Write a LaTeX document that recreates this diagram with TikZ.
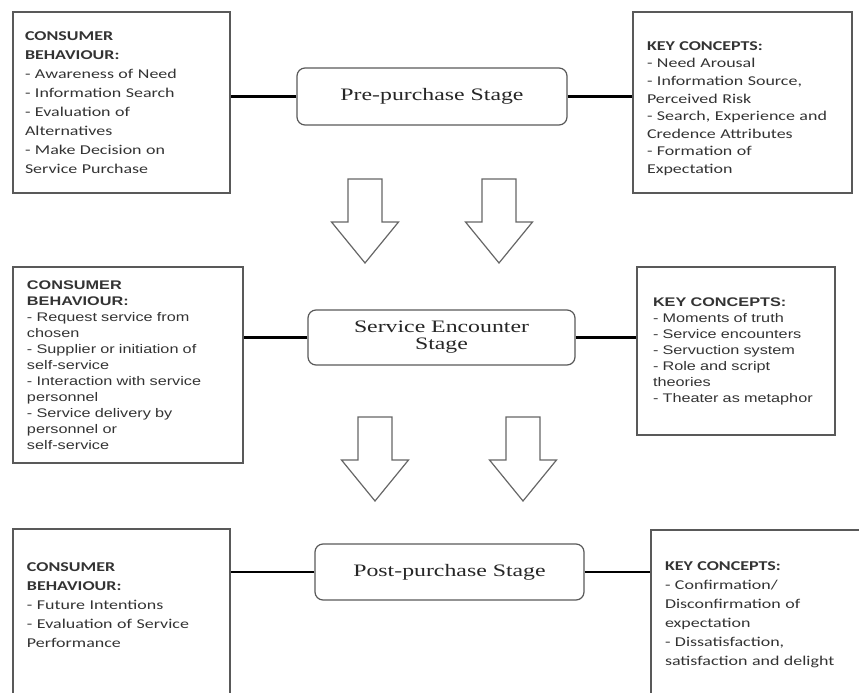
\documentclass[tikz,border=0pt]{standalone}
\usepackage{fontspec}
\setmainfont[FakeStretch=1.36]{Liberation Serif}
\newfontfamily\calibri[FakeStretch=1.33]{Carlito}
\newfontfamily\arialfont[FakeStretch=1.3]{Liberation Sans}
\usetikzlibrary{shapes.arrows, positioning}

\tikzset{
    blockarrow/.pic={
        \draw[arrowline] (-17,-42) -- (17,-42) -- (17,1) -- (33.5,1) -- (0,42) -- (-33.5,1) -- (-17,1) -- cycle;
    }
}

\begin{document}
\begin{tikzpicture}[
    x=1pt, y=-1pt,
    infobox/.style={draw=black!65, line width=1.2pt, rectangle, align=left, text=black!80, inner ysep=4pt},
    calibox/.style={infobox, font=\calibri\fontsize{13.5}{19}\selectfont},
    arialbox/.style={infobox, font=\arialfont\fontsize{12.5}{16}\selectfont},
    stage/.style={draw=black!65, line width=1.2pt, rectangle, rounded corners=8pt, align=center,
        text=black!85, font=\fontsize{17.5}{20}\selectfont},
    link/.style={draw=black, line width=2.2pt},
    arrowline/.style={draw=black!60, fill=white, line width=1.2pt, line join=miter}
]
    \useasboundingbox (0,0) rectangle (859,693);
    \clip (0,0) rectangle (859,693);

    % Stages
    \node[stage, minimum width=270pt, minimum height=57pt] (pre) at (432,96.5) {Pre-purchase Stage};
    \node[stage, minimum width=267pt, minimum height=55pt, text width=240pt] (enc) at (441.5,337.5)
        {Service Encounter\\[-3pt]Stage};
    \node[stage, minimum width=269pt, minimum height=56pt] (post) at (449.5,572) {Post-purchase Stage};

    % Consumer behaviour boxes
    \node[calibox, minimum width=217pt, minimum height=181pt, inner xsep=12pt, text width=193pt] (cbpre) at (121.5,102.5)
        {\textbf{CONSUMER}\\\textbf{BEHAVIOUR:}\\- Awareness of Need\\- Information Search\\- Evaluation of\\Alternatives\\- Make Decision on\\Service Purchase};
    \node[arialbox, minimum width=230pt, minimum height=196pt, inner xsep=14pt, text width=202pt] (cbenc) at (128,365)
        {\textbf{CONSUMER}\\\textbf{BEHAVIOUR:}\\- Request service from\\chosen\\- Supplier or initiation of\\self-service\\- Interaction with service\\personnel\\- Service delivery by\\personnel or\\self-service};
    \node[calibox, minimum width=217pt, minimum height=190pt, inner xsep=14pt, text width=189pt] (cbpost) at (121.5,624)
        {\textbf{CONSUMER}\\\textbf{BEHAVIOUR:}\\- Future Intentions\\- Evaluation of Service\\Performance\\\mbox{}\\\mbox{}};

    % Key concept boxes
    \node[calibox, font=\calibri\fontsize{13.5}{17.6}\selectfont, minimum width=219pt, minimum height=181pt,
        inner xsep=14pt, text width=191pt] (kcpre) at (742.5,102.5)
        {\rule{0pt}{21pt}\textbf{KEY CONCEPTS:}\\- Need Arousal\\- Information Source,\\Perceived Risk\\- Search, Experience and\\Credence Attributes\\- Formation of\\Expectation};
    \node[arialbox, minimum width=198pt, minimum height=168pt, inner xsep=16pt, text width=166pt] (kcenc) at (736,351)
        {\textbf{KEY CONCEPTS:}\\- Moments of truth\\- Service encounters\\- Servuction system\\- Role and script\\theories\\- Theater as metaphor};
    \node[calibox, minimum width=219pt, minimum height=170pt, inner xsep=14pt, text width=191pt] (kcpost) at (760.5,615)
        {\textbf{KEY CONCEPTS:}\\- Confirmation/\\Disconfirmation of\\expectation\\- Dissatisfaction,\\satisfaction and delight};

    % Connections
    \draw[link] (pre.west) -- (pre.west -| cbpre.east);
    \draw[link] (pre.east) -- (pre.east -| kcpre.west);
    \draw[link] (enc.west) -- (enc.west -| cbenc.east);
    \draw[link] (enc.east) -- (enc.east -| kcenc.west);
    \draw[link] (post.west) -- (post.west -| cbpost.east);
    \draw[link] (post.east) -- (post.east -| kcpost.west);

    % Block arrows
    \pic (arrA) at (365,221) {blockarrow};
    \pic (arrB) at (499,221) {blockarrow};
    \pic (arrC) at (375,459) {blockarrow};
    \pic (arrD) at (523,459) {blockarrow};
\end{tikzpicture}
\end{document}
